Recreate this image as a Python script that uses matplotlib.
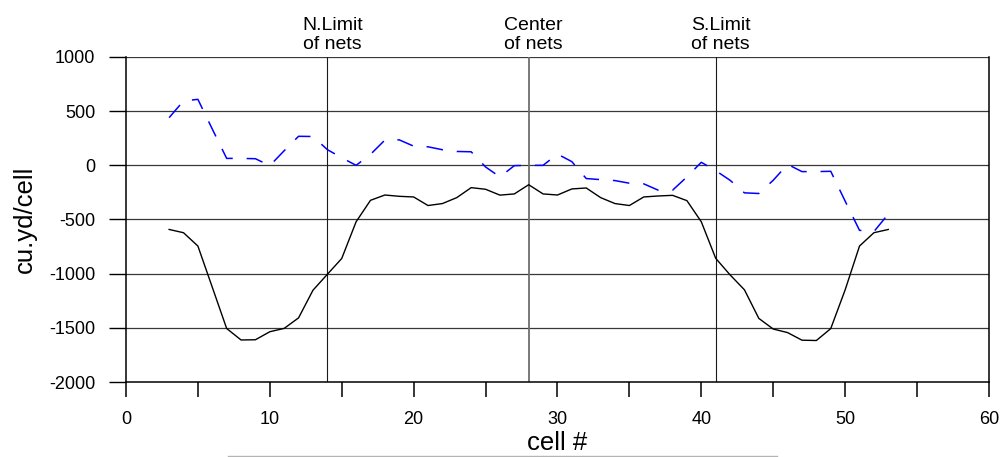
"""Cell volume change along the survey line, with net limits marked."""

import matplotlib
matplotlib.use("Agg")
import matplotlib.pyplot as plt
import matplotlib.ticker as ticker
from matplotlib.lines import Line2D

plt.rcParams["font.family"] = ["Liberation Sans", "DejaVu Sans"]
plt.rcParams["lines.scale_dashes"] = False
plt.rcParams["axes.unicode_minus"] = False

cells = list(range(3, 54))

# solid black series
volume_a = [-592, -622, -745, -1125, -1506, -1612, -1610, -1536, -1505, -1408,
            -1153, -1006, -860, -521, -323, -274, -286, -292, -371, -353,
            -298, -206, -221, -275, -264, -179, -264, -274, -218, -209,
            -298, -353, -371, -292, -283, -277, -326, -521, -858, -1011,
            -1149, -1413, -1511, -1544, -1614, -1617, -1507, -1150, -745, -622,
            -592]

# dashed blue series
volume_b = [440, 595, 609, 335, 64, 64, 61, -3, 135, 268,
            266, 145, 70, 0, 101, 233, 235, 177, 171, 144,
            128, 125, -15, -107, -3, 0, 0, 104, 34, -122,
            -132, -141, -165, -171, -229, -230, -107, 28, -49, -138,
            -254, -260, -138, 9, -58, -58, -55, -330, -600, -612,
            -450]

marker_x = [14, 28, 41]
marker_labels = ["N.Limit\nof nets", "Center\nof nets", "S.Limit\nof nets"]
marker_colors = ["#1a1a1a", "#6e6e6e", "#1a1a1a"]
marker_widths = [0.8, 1.3, 0.8]

y_grid = [1000, 500, 0, -500, -1000, -1500]

fig = plt.figure(figsize=(10.03, 4.57), dpi=100)
ax = fig.add_axes([0.1256, 0.1641, 0.8604, 0.7112])

for y in y_grid:
    ax.axhline(y, color="#383838", linewidth=0.9, zorder=1)

for x, lab, c, w in zip(marker_x, marker_labels, marker_colors, marker_widths):
    ax.axvline(x, color=c, linewidth=w, zorder=1)
    ax.text(x + 0.35, 1040, lab, ha="center", va="bottom", fontsize=14,
            linespacing=1.1, clip_on=False)

ax.plot(cells, volume_b, color="#0000ff", linewidth=1.1,
        linestyle=(0, (12, 10)), zorder=3)
ax.plot(cells, volume_a, color="black", linewidth=1.0, zorder=3)

ax.set_xlim(0, 60)
ax.set_ylim(-2000, 1000)
ax.xaxis.set_major_locator(ticker.MultipleLocator(10))
ax.xaxis.set_minor_locator(ticker.MultipleLocator(5))
ax.yaxis.set_major_locator(ticker.MultipleLocator(500))

ax.tick_params(axis="x", which="both", direction="out", length=11, width=1.1,
               pad=10, labelsize=13)
ax.tick_params(axis="y", direction="out", length=12, width=1.0,
               pad=10, labelsize=13)

ax.spines["top"].set_visible(False)
for side in ["left", "bottom", "right"]:
    ax.spines[side].set_linewidth(1.1)

ax.set_xlabel("cell #", fontsize=18.5, labelpad=2)
ax.set_ylabel("cu.yd/cell", fontsize=18.5, labelpad=9)

fig.add_artist(Line2D([228 / 1003, 777 / 1003], [1.5 / 457, 1.5 / 457],
                      color="#b4b4b4", linewidth=1))

fig.savefig("out.png", dpi=100)
plt.close(fig)
